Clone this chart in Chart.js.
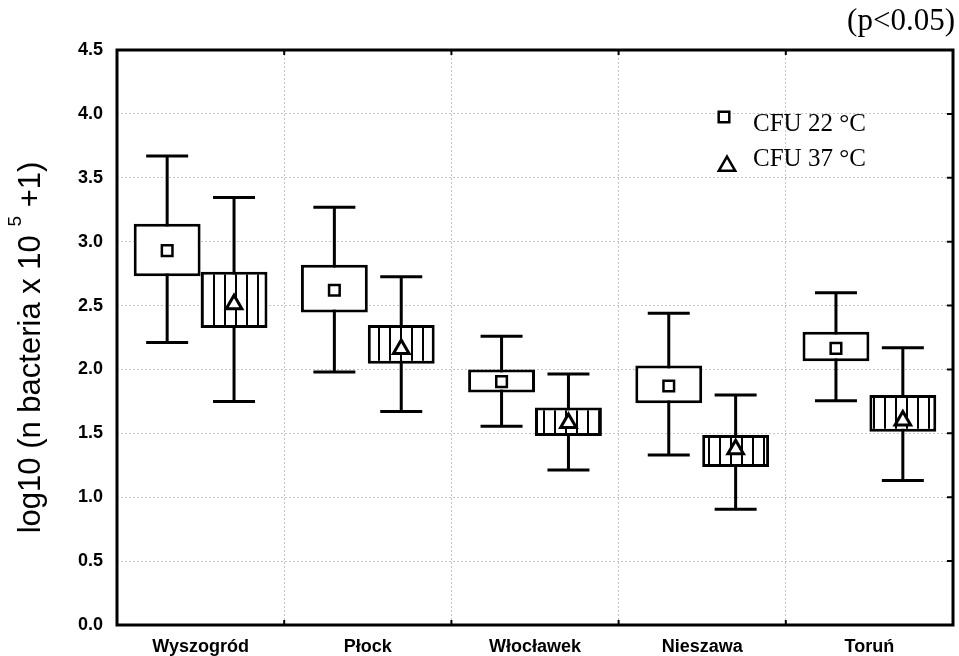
<!DOCTYPE html>
<html>
<head>
<meta charset="utf-8">
<script src="https://cdn.jsdelivr.net/npm/chart.js@4.4.1/dist/chart.umd.min.js"></script>
<style>
html,body{margin:0;padding:0;background:#fff;}
#wrap{width:959px;height:656px;position:relative;}
</style>
</head>
<body>
<div id="wrap"><canvas id="c" width="959" height="656"></canvas></div>
<script>
// ---- data ----
const categories = ['Wyszogród', 'Płock', 'Włocławek', 'Nieszawa', 'Toruń'];

const cfu22Mean      = [2.93, 2.62, 1.905, 1.87, 2.165];
const cfu22BoxLow    = [2.73, 2.445, 1.82, 1.735, 2.065];
const cfu22BoxHigh   = [3.14, 2.82, 2.00, 2.03, 2.295];
const cfu22WhiskLow  = [2.21, 1.98, 1.555, 1.33, 1.755];
const cfu22WhiskHigh = [3.67, 3.27, 2.26, 2.44, 2.60];

const cfu37Mean      = [2.51, 2.16, 1.58, 1.375, 1.60];
const cfu37BoxLow    = [2.325, 2.045, 1.48, 1.237, 1.513];
const cfu37BoxHigh   = [2.765, 2.347, 1.703, 1.487, 1.80];
const cfu37WhiskLow  = [1.75, 1.67, 1.213, 0.905, 1.13];
const cfu37WhiskHigh = [3.345, 2.725, 1.964, 1.80, 2.17];

const yTicks = [0.0, 0.5, 1.0, 1.5, 2.0, 2.5, 3.0, 3.5, 4.0, 4.5];
const seriesLabels = ['CFU 22 °C', 'CFU 37 °C'];
const yTitleParts = ['log10 (n bacteria x 10 ', '5', ' +1)'];
const noteText = '(p<0.05)';

// ---- hatch pattern for the CFU 37 boxes ----
function makeHatch() {
  const p = document.createElement('canvas');
  p.width = 11; p.height = 11;
  const g = p.getContext('2d');
  g.fillStyle = '#fff'; g.fillRect(0, 0, 11, 11);
  g.fillStyle = '#000'; g.fillRect(4, 0, 2, 11);
  return document.getElementById('c').getContext('2d').createPattern(p, 'repeat');
}
const hatch = makeHatch();

const series = [
  {mean: cfu22Mean, low: cfu22WhiskLow, high: cfu22WhiskHigh, style: 'rect', radius: 7.5, bw: 2.5},
  {mean: cfu37Mean, low: cfu37WhiskLow, high: cfu37WhiskHigh, style: 'triangle', radius: 9, bw: 3}
];

const whiskerPlugin = {
  id: 'whiskers',
  beforeDatasetsDraw(chart) {
    const ctx = chart.ctx, y = chart.scales.y;
    ctx.save();
    ctx.strokeStyle = '#000';
    ctx.lineWidth = 3;
    ctx.lineCap = 'butt';
    series.forEach((s, di) => {
      chart.getDatasetMeta(di).data.forEach((bar, i) => {
        const x = bar.x;
        const yl = y.getPixelForValue(s.low[i]);
        const yh = y.getPixelForValue(s.high[i]);
        ctx.beginPath();
        ctx.moveTo(x, yl); ctx.lineTo(x, yh);
        ctx.moveTo(x - 21, yl); ctx.lineTo(x + 21, yl);
        ctx.moveTo(x - 21, yh); ctx.lineTo(x + 21, yh);
        ctx.stroke();
      });
    });
    ctx.restore();
  },
  afterDatasetsDraw(chart) {
    const ctx = chart.ctx, y = chart.scales.y;
    ctx.save();
    series.forEach((s, di) => {
      chart.getDatasetMeta(di).data.forEach((bar, i) => {
        ctx.fillStyle = '#fff';
        ctx.strokeStyle = '#000';
        ctx.lineWidth = s.bw;
        Chart.helpers.drawPoint(ctx, {pointStyle: s.style, radius: s.radius, rotation: 0, borderWidth: s.bw},
          bar.x, y.getPixelForValue(s.mean[i]));
      });
    });
    ctx.restore();
  }
};

const framePlugin = {
  id: 'frame',
  afterDraw(chart) {
    const ctx = chart.ctx, a = chart.chartArea, x = chart.scales.x, y = chart.scales.y;
    ctx.save();
    ctx.strokeStyle = '#000';
    ctx.lineWidth = 3;
    ctx.strokeRect(a.left, a.top, a.right - a.left, a.bottom - a.top);
    ctx.lineWidth = 2;
    ctx.beginPath();
    for (let i = 0; i < categories.length - 1; i++) {
      const bx = (x.getPixelForValue(i) + x.getPixelForValue(i + 1)) / 2;
      ctx.moveTo(bx, a.top); ctx.lineTo(bx, a.top + 5);
      ctx.moveTo(bx, a.bottom); ctx.lineTo(bx, a.bottom - 5);
    }
    yTicks.forEach(v => {
      if (v === 0 || v === 4.5) return;
      const py = y.getPixelForValue(v);
      ctx.moveTo(a.right, py); ctx.lineTo(a.right - 6, py);
    });
    ctx.stroke();

    // y axis title with superscript
    ctx.fillStyle = '#000';
    ctx.textAlign = 'left';
    ctx.textBaseline = 'alphabetic';
    const big = '31px "Liberation Sans", Arial, sans-serif';
    const small = '19px "Liberation Sans", Arial, sans-serif';
    ctx.font = big;
    const w1 = ctx.measureText(yTitleParts[0]).width;
    const w3 = ctx.measureText(yTitleParts[2]).width;
    ctx.font = small;
    const w2 = ctx.measureText(yTitleParts[1]).width;
    const total = w1 + w2 + w3;
    const cy = (a.top + a.bottom) / 2 + 10;
    ctx.save();
    ctx.translate(40, cy + total / 2);
    ctx.rotate(-Math.PI / 2);
    ctx.font = big;
    ctx.fillText(yTitleParts[0], 0, 0);
    ctx.font = small;
    ctx.fillText(yTitleParts[1], w1, -19);
    ctx.font = big;
    ctx.fillText(yTitleParts[2], w1 + w2, 0);
    ctx.restore();

    // note
    ctx.font = '31px "Liberation Serif", "Times New Roman", serif';
    ctx.textAlign = 'right';
    ctx.fillText(noteText, 955, 30);

    // legend
    ctx.fillStyle = '#fff';
    ctx.strokeStyle = '#000';
    ctx.lineWidth = 2.5;
    Chart.helpers.drawPoint(ctx, {pointStyle: 'rect', radius: 7.5, rotation: 0, borderWidth: 2.5}, 724, 117);
    Chart.helpers.drawPoint(ctx, {pointStyle: 'triangle', radius: 9.5, rotation: 0, borderWidth: 2.5}, 727, 166);
    ctx.fillStyle = '#000';
    ctx.font = '25px "Liberation Serif", "Times New Roman", serif';
    ctx.textAlign = 'left';
    ctx.fillText(seriesLabels[0], 753, 131);
    ctx.fillText(seriesLabels[1], 753, 166);
    ctx.restore();
  }
};

const boxData22 = categories.map((c, i) => [cfu22BoxLow[i], cfu22BoxHigh[i]]);
const boxData37 = categories.map((c, i) => [cfu37BoxLow[i], cfu37BoxHigh[i]]);

const tickFont = {family: '"Liberation Sans", Arial, sans-serif', size: 18, weight: 'bold'};

new Chart(document.getElementById('c'), {
  type: 'bar',
  data: {
    labels: categories,
    datasets: [
      {label: seriesLabels[0], data: boxData22, backgroundColor: '#fff', borderColor: '#000',
       borderWidth: 3, borderSkipped: false, categoryPercentage: 0.8, barPercentage: 1.0},
      {label: seriesLabels[1], data: boxData37, backgroundColor: hatch, borderColor: '#000',
       borderWidth: 3, borderSkipped: false, categoryPercentage: 0.8, barPercentage: 1.0}
    ]
  },
  options: {
    responsive: false,
    animation: false,
    devicePixelRatio: 1,
    layout: {padding: {top: 50, right: 6, left: 0, bottom: 0}},
    plugins: {legend: {display: false}, tooltip: {enabled: false}},
    scales: {
      x: {
        type: 'category',
        offset: true,
        grid: {offset: true, color: '#c4c4c4', lineWidth: 1, drawTicks: false},
        border: {display: false, dash: [2, 2]},
        ticks: {color: '#000', padding: 11, font: tickFont},
        afterFit: s => { s.height = 31; }
      },
      y: {
        min: 0, max: 4.5,
        afterBuildTicks: s => { s.ticks = yTicks.map(v => ({value: v})); },
        grid: {color: '#c4c4c4', lineWidth: 1, drawTicks: false},
        border: {display: false, dash: [2, 2]},
        ticks: {color: '#000', padding: 14, font: tickFont,
                callback: v => Number(v).toFixed(1)},
        afterFit: s => { s.width = 117; }
      }
    }
  },
  plugins: [whiskerPlugin, framePlugin]
});
</script>
</body>
</html>
